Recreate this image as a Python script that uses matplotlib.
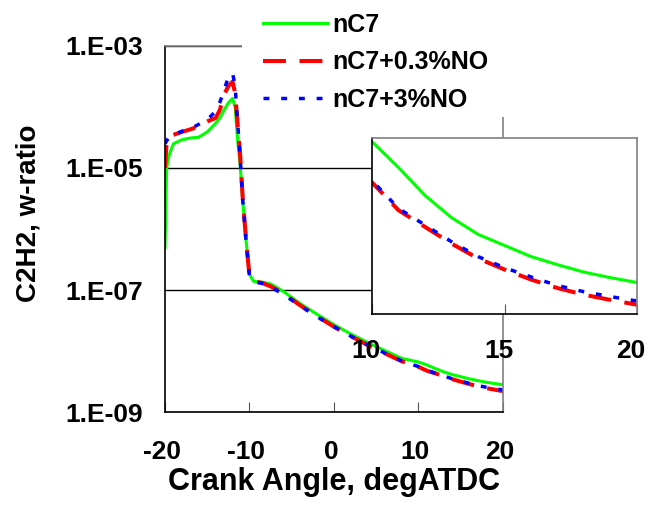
import matplotlib.pyplot as plt
from matplotlib.ticker import FixedLocator, NullLocator
from matplotlib.patches import Rectangle
from matplotlib.transforms import ScaledTranslation

plt.rcParams['font.family'] = ['Liberation Sans', 'DejaVu Sans']
plt.rcParams['font.weight'] = 'bold'
plt.rcParams['axes.unicode_minus'] = False

# crank angle, degATDC
crank = [-20, -19.8, -19.5, -19, -18, -17, -16, -15, -14, -13.5, -13, -12.5,
         -12, -11.7, -11.4, -11.1, -10.8, -10.4, -10, -9.5, -8.5, -7.5, -6,
         -4, -2, 0, 2, 4, 6, 8, 10, 11, 12, 13, 14, 15, 16, 17, 18, 19, 20]

# C2H2 mass ratio
c2h2_nc7 = [5e-7, 1e-5, 1.65e-5, 2.5e-5, 2.9e-5, 3.1e-5, 3.2e-5, 3.9e-5, 5.4e-5,
            6.6e-5, 8.9e-5, 1.17e-4, 1.38e-4, 1.0e-4, 2.9e-5, 1.1e-5, 3.0e-6,
            6.3e-7, 1.8e-7, 1.38e-7, 1.35e-7, 1.26e-7, 9.5e-8, 6.0e-8, 4.0e-8,
            2.7e-8, 1.9e-8, 1.38e-8, 1.02e-8, 7.6e-9, 6.6e-9, 5.9e-9, 5.15e-9,
            4.55e-9, 4.1e-9, 3.8e-9, 3.5e-9, 3.28e-9, 3.08e-9, 2.93e-9, 2.8e-9]
c2h2_nc7_03no = [1.0e-5, 2.7e-5, 3.2e-5, 3.5e-5, 3.9e-5, 4.3e-5, 4.8e-5, 5.8e-5,
                 6.6e-5, 9e-5, 1.6e-4, 2.2e-4, 2.6e-4, 1.7e-4, 5e-5, 1.6e-5,
                 3.2e-6, 6.5e-7, 1.7e-7, 1.4e-7, 1.3e-7, 1.15e-7, 8.8e-8, 5.6e-8,
                 3.7e-8, 2.5e-8, 1.75e-8, 1.25e-8, 9.2e-9, 6.8e-9, 5.5e-9, 4.75e-9,
                 4.3e-9, 3.85e-9, 3.45e-9, 3.15e-9, 2.88e-9, 2.65e-9, 2.47e-9,
                 2.33e-9, 2.2e-9]
c2h2_nc7_3no = [2.5e-5, 2.8e-5, 3.2e-5, 3.5e-5, 4.0e-5, 4.4e-5, 5.2e-5, 6.2e-5,
                8.5e-5, 1.2e-4, 1.9e-4, 3.1e-4, 3.6e-4, 2.2e-4, 5.5e-5, 1.5e-5,
                3.0e-6, 6.3e-7, 1.65e-7, 1.38e-7, 1.28e-7, 1.12e-7, 8.5e-8, 5.5e-8,
                3.65e-8, 2.5e-8, 1.75e-8, 1.26e-8, 9.3e-9, 6.9e-9, 5.55e-9, 4.8e-9,
                4.35e-9, 3.9e-9, 3.5e-9, 3.2e-9, 2.95e-9, 2.72e-9, 2.55e-9, 2.42e-9,
                2.3e-9]

series_labels = ['nC7', 'nC7+0.3%NO', 'nC7+3%NO']
y_ticks = [1e-9, 1e-7, 1e-5, 1e-3]
y_tick_labels = ['1.E-09', '1.E-07', '1.E-05', '1.E-03']
x_ticks = [-20, -10, 0, 10, 20]
inset_ticks = [10, 15, 20]


def draw_lines(ax):
    hs = []
    hs += ax.plot(crank, c2h2_nc7, color='#00ff00', lw=2.2, solid_joinstyle='round')
    hs += ax.plot(crank, c2h2_nc7_03no, color='#ff0000', lw=2.9, dashes=(5.7, 3.35))
    hs += ax.plot(crank, c2h2_nc7_3no, color='#0000ff', lw=2.5, dashes=(1.7, 3.4))
    return hs


def style_spines(a):
    for s in ['top', 'right']:
        a.spines[s].set_color('#808080')
    for s in ['left', 'bottom']:
        a.spines[s].set_color('black')
    for s in a.spines.values():
        s.set_linewidth(1.2)


def shift_xlabels(a, px):
    off = ScaledTranslation(px / 100, 0, fig.dpi_scale_trans)
    for lab in a.get_xticklabels():
        lab.set_transform(lab.get_transform() + off)


fig = plt.figure(figsize=(6.46, 5.11), dpi=100)

ax = fig.add_axes([0.2554, 0.1937, 0.5232, 0.7163])
handles = draw_lines(ax)
ax.set_yscale('log')
ax.set_xlim(-20, 20)
ax.set_ylim(1e-9, 1e-3)
ax.yaxis.set_major_locator(FixedLocator(y_ticks))
ax.yaxis.set_minor_locator(NullLocator())
ax.set_yticklabels(y_tick_labels)
ax.set_xticks(x_ticks)
ax.tick_params(axis='y', length=0, pad=16, labelsize=19)
ax.tick_params(axis='x', direction='in', length=7, color='#555555', pad=20, labelsize=19)
ax.yaxis.grid(True, color='black', lw=1)
style_spines(ax)
ax.set_xlabel('Crank Angle, degATDC', fontsize=22, fontweight='bold', labelpad=2)
ax.set_ylabel('C2H2, w-ratio', fontsize=20, fontweight='bold')
ax.yaxis.set_label_coords(-0.365, 0.544)
shift_xlabels(ax, -3)

# zoomed inset
axi = fig.add_axes([0.5759, 0.3855, 0.4102, 0.3445])
draw_lines(axi)
axi.set_xlim(10, 20)
axi.set_ylim(1.95e-9, 6.7e-9)
axi.set_xticks(inset_ticks)
axi.yaxis.set_major_locator(NullLocator())
axi.tick_params(axis='x', direction='in', length=7, color='#555555', pad=18, labelsize=19)
style_spines(axi)
shift_xlabels(axi, -6)

# white legend background, hides part of the plot-area border
fig.add_artist(Rectangle((0.3746, 0.771), 0.4226, 0.229, transform=fig.transFigure,
                         facecolor='white', edgecolor='none', zorder=3))
fig.legend(handles, series_labels, loc='upper left', bbox_to_anchor=(0.392, 0.995),
           prop={'size': 18, 'weight': 'bold'}, frameon=False, borderpad=0.4,
           handlelength=2.56, handletextpad=0.2, labelspacing=0.55, borderaxespad=0)

fig.savefig('out.png', dpi=100)
